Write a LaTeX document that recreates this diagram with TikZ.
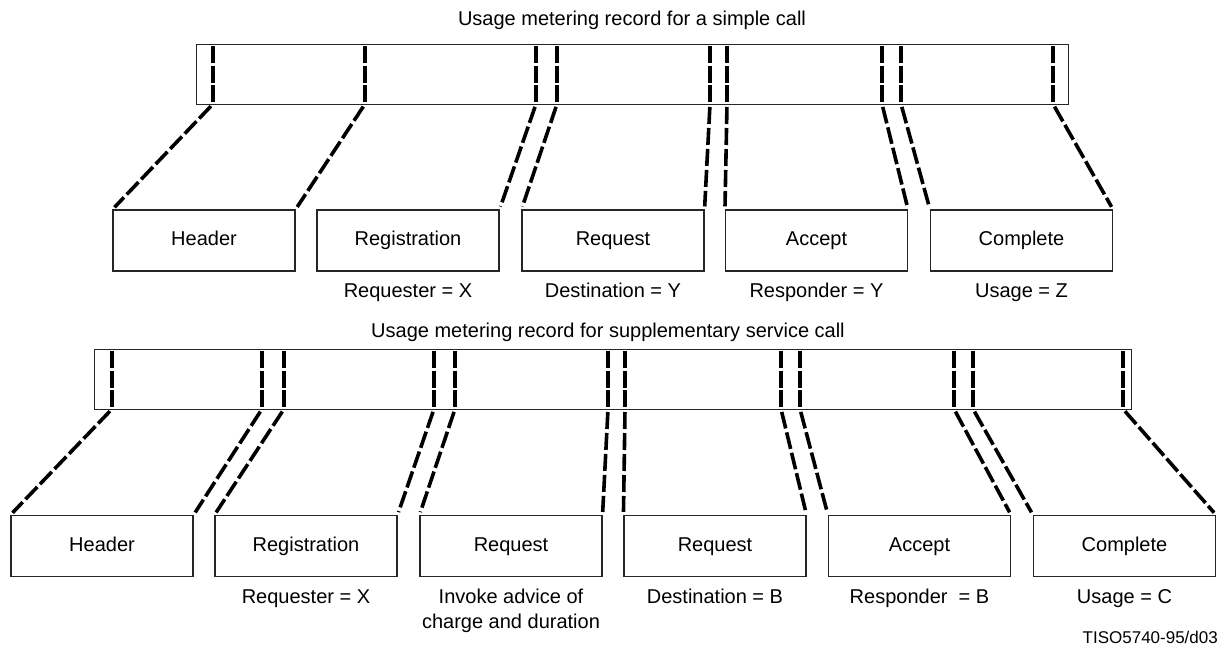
\documentclass[tikz,border=0pt]{standalone}
\usepackage{fontspec}
\setmainfont{Liberation Sans}
\begin{document}
\begin{tikzpicture}[x=1pt,y=-1pt,
  rec/.style={draw=black!85, line width=1.1pt, anchor=north west, inner sep=0pt, minimum height=60pt},
  box/.style={draw=black!85, line width=1.1pt, minimum width=182pt, minimum height=61pt, inner sep=0pt, text height=14.5pt, text depth=4.2pt},
  divline/.style={line width=3.6pt, dash pattern=on 17pt off 2.5pt},
  conn/.style={line width=3.6pt, dash pattern=on 17pt off 4pt, shorten <=3pt, shorten >=3pt},
  lbl/.style={inner sep=0pt, anchor=center, text height=14.5pt, text depth=4.2pt},
  font=\fontsize{20}{26}\selectfont]
\useasboundingbox (0,0) rectangle (1223,651);

% ---------- simple call ----------
\node[lbl] (title1) at (632,20) {Usage metering record for a simple call};
\node[rec, minimum width=872pt] (r1) at (196,44) {};
\foreach \x [count=\i] in {213,365,536,557,710,727,882,901,1053} {
  \draw[divline] (\x,46) -- (\x,102);
  \coordinate (a\i) at (\x,104);
}
\node[box] (h1) at (204,240.5) {Header};
\node[box] (g1) at (408,240.5) {Registration};
\node[box] (q1) at (613,240.5) {Request};
\node[box] (ac1) at (816.5,240.5) {Accept};
\node[box] (c1) at (1021.5,240.5) {Complete};

\draw[conn] (a1) -- (h1.north west);
\draw[conn] (a2) -- (h1.north east);
\draw[conn] (a3) -- (g1.north east);
\draw[conn] (a4) -- (q1.north west);
\draw[conn] (a5) -- (q1.north east);
\draw[conn] (a6) -- (ac1.north west);
\draw[conn] (a7) -- (ac1.north east);
\draw[conn] (a8) -- (c1.north west);
\draw[conn] (a9) -- (c1.north east);

\node[lbl] (l1) at (408,292) {Requester = X};
\node[lbl] (l2) at (613,292) {Destination = Y};
\node[lbl] (l3) at (816.5,292) {Responder = Y};
\node[lbl] (l4) at (1021.5,292) {Usage = Z};

% ---------- supplementary service call ----------
\node[lbl] (title2) at (608,332) {Usage metering record for supplementary service call};
\node[rec, minimum width=1037pt] (r2) at (94,349) {};
\foreach \x [count=\i] in {112,262,284,434,455,608,625,781,800,954,973,1123} {
  \draw[divline] (\x,351) -- (\x,407);
  \coordinate (b\i) at (\x,409);
}
\node[box] (h2) at (102,546) {Header};
\node[box] (g2) at (306,546) {Registration};
\node[box] (q2) at (511,546) {Request};
\node[box] (q3) at (715,546) {Request};
\node[box] (ac2) at (919.5,546) {Accept};
\node[box] (c2) at (1124.5,546) {Complete};

\draw[conn] (b1) -- (h2.north west);
\draw[conn] (b2) -- (h2.north east);
\draw[conn] (b3) -- (g2.north west);
\draw[conn] (b4) -- (g2.north east);
\draw[conn] (b5) -- (q2.north west);
\draw[conn] (b6) -- (q2.north east);
\draw[conn] (b7) -- (q3.north west);
\draw[conn] (b8) -- (q3.north east);
\draw[conn] (b9) -- (ac2.north west);
\draw[conn] (b10) -- (ac2.north east);
\draw[conn] (b11) -- (c2.north west);
\draw[conn] (b12) -- (c2.north east);

\node[lbl] (m1) at (306,598) {Requester = X};
\node[lbl] (m2a) at (511,598) {Invoke advice of};
\node[lbl] (m2b) at (511,623) {charge and duration};
\node[lbl] (m3) at (715,598) {Destination = B};
\node[lbl] (m4) at (919.5,598) {Responder~ = B};
\node[lbl] (m5) at (1124.5,598) {Usage = C};

\node[lbl, anchor=east, font=\fontsize{17}{20}\selectfont, text height=12.3pt, text depth=3.6pt] (code) at (1218,639) {TISO5740-95/d03};
\end{tikzpicture}
\end{document}
